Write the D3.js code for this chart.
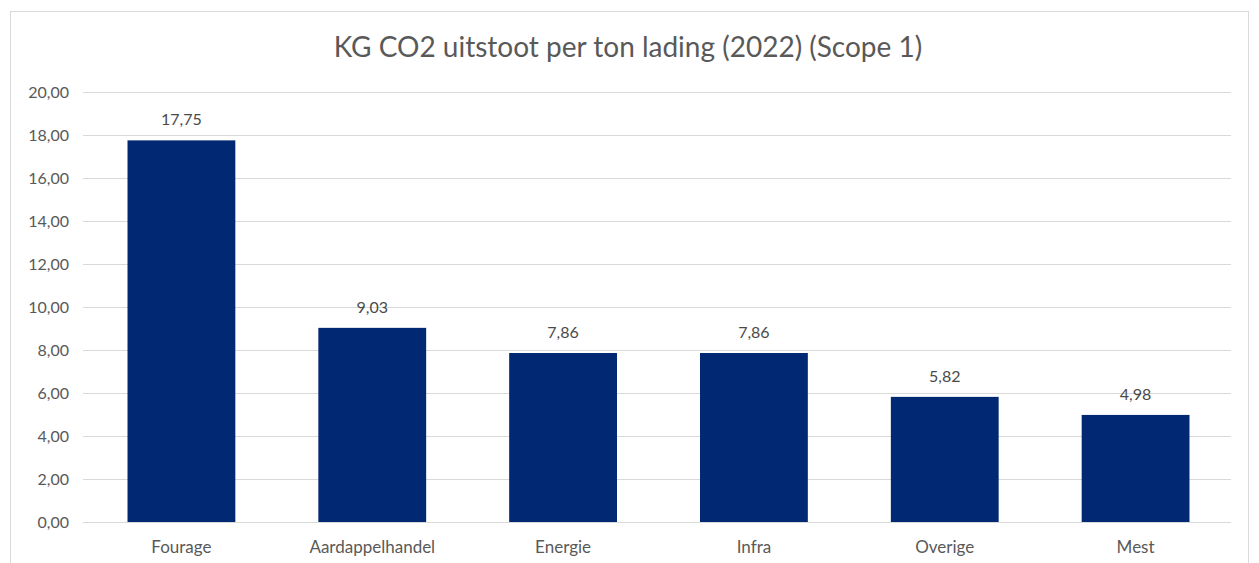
<!DOCTYPE html>
<html>
<head>
<meta charset="utf-8">
<script src="https://cdn.jsdelivr.net/npm/d3@7"></script>
<style>
  body { margin: 0; background: #fff; }
  svg { font-family: Lato, 'Open Sans', sans-serif; }
  .tick text { fill: #595959; font-family: Lato, 'Open Sans', sans-serif; }
</style>
</head>
<body>
<div id="area"></div>
<script>
const categories = ['Fourage', 'Aardappelhandel', 'Energie', 'Infra', 'Overige', 'Mest']
const values = [17.75, 9.03, 7.86, 7.86, 5.82, 4.98]
const yTicks = [0, 2, 4, 6, 8, 10, 12, 14, 16, 18, 20]
const title = 'KG CO2 uitstoot per ton lading (2022) (Scope 1)'

const fmt = v => d3.format('.2f')(v).replace('.', ',')

const svg = d3.select('#area')
            .append('svg')
            .attr('width', 1259)
            .attr('height', 563)

// chart frame
svg.append('rect')
    .attr('x', 10.5)
    .attr('y', 11.5)
    .attr('width', 1238)
    .attr('height', 570)
    .attr('fill', 'none')
    .attr('stroke', '#d9d9d9')

svg.append('text')
    .attr('x', 628)
    .attr('y', 57)
    .attr('text-anchor', 'middle')
    .attr('fill', '#595959')
    .style('font-size', '28px')
    .text(title)

const xScale = d3.scaleBand()
              .domain(categories)
              .range([86, 1231])
              .paddingInner(0.435)
              .paddingOuter(0.2175)
const yScale = d3.scaleLinear()
              .domain([0, 20])
              .range([522, 92])

// gridlines
svg.selectAll('.grid')
    .data(yTicks)
    .enter()
    .append('line')
    .attr('class', 'grid')
    .attr('x1', 83)
    .attr('x2', 1231)
    .attr('y1', d => Math.round(yScale(d)) + 0.5)
    .attr('y2', d => Math.round(yScale(d)) + 0.5)
    .attr('stroke', '#d9d9d9')

const yAxis = svg.append('g')
    .attr('transform', 'translate(69,0)')
    .call(d3.axisLeft(yScale).tickValues(yTicks).tickFormat(fmt).tickSize(0).tickPadding(0))
yAxis.select('.domain').remove()
yAxis.selectAll('text').style('font-size', '16px')

svg.selectAll('rect.bar')
    .data(values)
    .enter()
    .append('rect')
    .attr('class', 'bar')
    .attr('x', (d, i) => xScale(categories[i]))
    .attr('y', d => yScale(d))
    .attr('width', xScale.bandwidth())
    .attr('height', d => yScale(0) - yScale(d))
    .attr('fill', '#002873')

svg.selectAll('.val')
    .data(values)
    .enter()
    .append('text')
    .attr('class', 'val')
    .attr('x', (d, i) => xScale(categories[i]) + xScale.bandwidth() / 2)
    .attr('y', d => yScale(d) - 15)
    .attr('text-anchor', 'middle')
    .attr('fill', '#4a4a4a')
    .style('font-size', '16px')
    .text(d => fmt(d))

const xAxis = svg.append('g')
    .attr('transform', 'translate(0,522)')
    .call(d3.axisBottom(xScale).tickSize(0).tickPadding(19))
xAxis.select('.domain').remove()
xAxis.selectAll('text').style('font-size', '17px')
</script>
</body>
</html>
